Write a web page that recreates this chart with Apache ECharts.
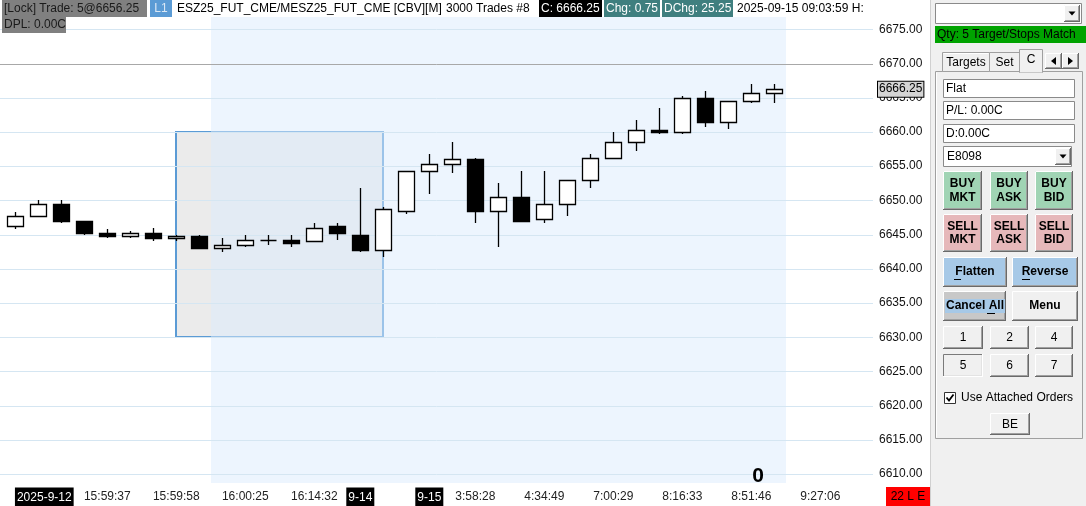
<!DOCTYPE html>
<html><head><meta charset="utf-8">
<script src="https://cdn.jsdelivr.net/npm/echarts@6.0.0/dist/echarts.min.js"></script>
<style>html,body{margin:0;padding:0;background:#fff;overflow:hidden}#c{width:1086px;height:506px}</style>
</head><body><div id="c"></div>
<script>
// ---------- data ----------
const opens  = [6646.25,6647.75,6649.50,6647.00,6645.25,6644.75,6645.25,6644.50,6644.75,6643.00,6643.50,6644.25,6644.25,6644.00,6646.25,6645.00,6642.75,6648.50,6654.25,6655.25,6656.00,6648.50,6650.50,6647.25,6649.50,6653.00,6656.25,6658.50,6660.25,6660.00,6665.00,6661.50,6664.50,6665.75];
const highs  = [6648.25,6650.00,6650.00,6647.00,6645.75,6645.50,6646.00,6645.00,6645.00,6644.50,6645.00,6645.00,6645.00,6646.75,6646.75,6651.75,6649.00,6654.25,6656.75,6658.50,6656.25,6652.50,6654.25,6654.25,6653.00,6656.75,6660.00,6661.75,6663.50,6665.25,6666.00,6664.50,6667.00,6667.00];
const lows   = [6645.75,6647.75,6646.75,6645.00,6644.50,6644.50,6644.00,6644.00,6643.00,6642.50,6643.25,6643.50,6643.25,6644.00,6644.25,6642.50,6641.75,6648.00,6651.00,6654.00,6646.75,6643.25,6647.00,6646.75,6647.75,6651.75,6656.00,6657.25,6659.75,6659.75,6660.75,6660.50,6664.25,6664.25];
const closes = [6647.75,6649.50,6647.00,6645.25,6644.75,6645.25,6644.50,6644.75,6643.00,6643.50,6644.25,6644.25,6643.75,6646.00,6645.25,6642.75,6648.75,6654.25,6655.25,6656.00,6648.50,6650.50,6647.00,6649.50,6653.00,6656.25,6658.50,6660.25,6660.00,6665.00,6661.50,6664.50,6665.75,6666.25];
const xTickIndex  = [0,4,7,10,13,15,18,20,23,26,29,32,35];
const xTickLabels = ['2025-9-12','15:59:37','15:59:58','16:00:25','16:14:32','9-14','9-15','3:58:28','4:34:49','7:00:29','8:16:33','8:51:46','9:27:06'];
const yTickValues = [6610,6615,6620,6625,6630,6635,6640,6645,6650,6655,6660,6665,6670,6675];
const sessionRange = [8.5, 33.5];
const selectionBox = [7, 6660, 16, 6630];
const referenceLevel = 6670;
const xRange = [-0.665, 37.29];
const yRange = [6608.69, 6676.80];

// ---------- build ----------
const candleData = opens.map((o,i)=>[i,o,highs[i],lows[i],closes[i]]);
const lastPrice = closes[closes.length-1];
const FF = '"Liberation Sans", Arial, sans-serif';
const F12 = '12px ' + FF, FB12 = 'bold 12px ' + FF;

function R(x,y,w,h,fill,stroke,lw){return {type:'rect',silent:true,shape:{x:x,y:y,width:w,height:h},style:{fill:fill||'none',stroke:stroke||null,lineWidth:lw||1}};}
function L(x1,y1,x2,y2,c,lw){return {type:'line',silent:true,shape:{x1:x1,y1:y1,x2:x2,y2:y2},style:{stroke:c,lineWidth:lw||1}};}
function T(x,y,text,o){o=o||{};return {type:'text',silent:true,x:x,y:y,style:{text:text,fill:o.fill||'#000',font:o.font||F12,align:o.align||'left',verticalAlign:'middle',backgroundColor:o.bg||null,padding:o.pad||null}};}
function P(points,fill){return {type:'polygon',silent:true,shape:{points:points},style:{fill:fill||'#000'}};}
function btn(x,y,w,h,fill,sunken){
  const hi = sunken ? '#7a7a7a' : '#ffffff', lo = sunken ? '#ffffff' : '#6a6a6a';
  return [R(x,y,w,h,fill),
    L(x+0.5,y+0.5,x+w-0.5,y+0.5,hi), L(x+0.5,y+0.5,x+0.5,y+h-0.5,hi),
    L(x,y+h-0.5,x+w,y+h-0.5,lo), L(x+w-0.5,y,x+w-0.5,y+h,lo),
    L(x+1,y+h-1.5,x+w-1,y+h-1.5, sunken?'#e3e3e3':'#a0a0a0'), L(x+w-1.5,y+1,x+w-1.5,y+h-1, sunken?'#e3e3e3':'#a0a0a0')];
}
function field(x,y,w,h){return [R(x+0.5,y+0.5,w-1,h-1,'#fff','#8a8a8a')];}
function dropBtn(x,y,w,h){return btn(x,y,w,h,'#f0f0f0',false).concat([P([[x+w/2-3.5,y+h/2-2],[x+w/2+3.5,y+h/2-2],[x+w/2,y+h/2+2]])]);}

let G = [];
// chart-area header
G.push(R(2,0,145,17,'#808080'));
G.push(T(4,9,'[Lock] Trade: 5@6656.25',{fill:'#1a1a1a'}));
G.push(R(150,0,22,17,'#5b9bd5'));
G.push(T(161,9,'L1',{fill:'#dbe8f5',align:'center'}));
G.push(T(177,9,'ESZ25_FUT_CME/MESZ25_FUT_CME [CBV][M]'));
G.push(T(446,9,'3000 Trades #8'));
G.push(R(539,0,63,17,'#000'));
G.push(T(541,9,'C: 6666.25',{fill:'#fff'}));
G.push(R(604,0,56,17,'#3f7f7f'));
G.push(T(606,9,'Chg: 0.75',{fill:'#fff'}));
G.push(R(662,0,71,17,'#3f7f7f'));
G.push(T(664,9,'DChg: 25.25',{fill:'#fff'}));
G.push(T(737,9,'2025-09-15 09:03:59 H:'));
G.push(R(2,17,64,16,'#808080'));
G.push(T(4,25,'DPL: 0.00C',{fill:'#1a1a1a'}));
G.push(T(758,476,'0',{font:'bold 21px '+FF,align:'center'}));
G.push(R(886,487,44,19,'#ff0000'));
G.push(T(908,496.5,'22 L E',{align:'center'}));

// right panel
G.push(R(930,0,156,506,'#f0f0f0'));
G.push(L(930.5,0,930.5,506,'#d0d0d0'));
G = G.concat(field(935,3,147,21));
G = G.concat(dropBtn(1064,5,16,17));
G.push(R(935,26,151,17,'#00a300'));
G.push(T(937,34.5,'Qty: 5 Target/Stops Match'));
// tab content frame
G.push(R(935.5,71.5,147,367,'#f0f0f0','#a0a0a0'));
G.push(L(936.5,72.5,936.5,437.5,'#ffffff'));
// tabs
G.push(R(942.5,52.5,47,19,'#f0f0f0','#a0a0a0'));
G.push(L(943.5,53.5,988.5,53.5,'#fff'));
G.push(T(966,63,'Targets',{align:'center'}));
G.push(R(989.5,52.5,30,19,'#f0f0f0','#a0a0a0'));
G.push(T(1004.5,63,'Set',{align:'center'}));
G.push(R(1019.5,49.5,23,23,'#f0f0f0','#a0a0a0'));
G.push(L(1020,71.5,1042,71.5,'#f0f0f0',2));
G.push(T(1031,60,'C',{align:'center'}));
G = G.concat(btn(1045,53,17,16,'#f0f0f0'));
G = G.concat(btn(1062,53,17,16,'#f0f0f0'));
G.push(P([[1051,61],[1056,57],[1056,65]]));
G.push(P([[1073,61],[1068,57],[1068,65]]));
// text fields
G = G.concat(field(943,79,132,19)); G.push(T(946,89,'Flat'));
G = G.concat(field(943,101,132,19)); G.push(T(946,111,'P/L: 0.00C'));
G = G.concat(field(943,124,132,19)); G.push(T(946,134,'D:0.00C'));
G = G.concat(field(943,146,129,21)); G.push(T(947,157,'E8098'));
G = G.concat(dropBtn(1055,148,16,17));
// buy / sell
[[943,39,'MKT'],[990,38,'ASK'],[1035,38,'BID']].forEach(function(b){
  G = G.concat(btn(b[0],171,b[1],39,'#a0d4b4'));
  G.push(T(b[0]+b[1]/2,184,'BUY',{font:FB12,align:'center'}));
  G.push(T(b[0]+b[1]/2,198,b[2],{font:FB12,align:'center'}));
  G = G.concat(btn(b[0],214,b[1],38,'#e6b8ba'));
  G.push(T(b[0]+b[1]/2,227,'SELL',{font:FB12,align:'center'}));
  G.push(T(b[0]+b[1]/2,240,b[2],{font:FB12,align:'center'}));
});
// flatten / reverse
G = G.concat(btn(943,257,64,30,'#a7c9e7'));
G.push(T(975,272,'Flatten',{font:FB12,align:'center'}));
G.push(L(954,279.5,961,279.5,'#000'));
G = G.concat(btn(1012,257,66,30,'#a7c9e7'));
G.push(T(1045,272,'Reverse',{font:FB12,align:'center'}));
G.push(L(1022,279.5,1030,279.5,'#000'));
G = G.concat(btn(943,291,63,30,'#c8c8c8'));
G.push(T(975,306,'Cancel All',{font:FB12,align:'center',bg:'#a7c9e7',pad:[1,1,1,1]}));
G.push(L(987,313.5,995,313.5,'#000'));
G = G.concat(btn(1012,291,66,30,'#f0f0f0'));
G.push(T(1045,306,'Menu',{font:FB12,align:'center'}));
// number buttons
[[943,40,'1','5'],[990,39,'2','6'],[1035,38,'4','7']].forEach(function(b,k){
  G = G.concat(btn(b[0],326,b[1],23,'#f0f0f0'));
  G.push(T(b[0]+b[1]/2,338,b[2],{align:'center'}));
  G = G.concat(btn(b[0],354,b[1],23,'#f0f0f0',k===0));
  G.push(T(b[0]+b[1]/2,366,b[3],{align:'center'}));
});
// checkbox
G.push(R(944.5,392.5,11,11,'#fff','#333'));
G.push({type:'polyline',silent:true,shape:{points:[[946.5,397.5],[949,400.5],[953.5,394.5]]},style:{stroke:'#000',lineWidth:1.8,fill:null}});
G.push(T(961,398,'Use Attached Orders'));
G = G.concat(btn(990,413,40,22,'#f0f0f0'));
G.push(T(1010,424.5,'BE',{align:'center'}));
G.forEach(function(e){ e.z = 100; });

// ---------- chart ----------
const chart = echarts.init(document.getElementById('c'), null, {renderer:'canvas'});
const option = {
  animation: false,
  backgroundColor: '#ffffff',
  grid: {left: 0, right: 213, top: 17, bottom: 23, containLabel: false, outerBoundsMode: 'none'},
  xAxis: {
    type: 'value', min: xRange[0], max: xRange[1],
    axisLine: {show:false}, axisTick: {show:false}, splitLine: {show:false},
    axisLabel: {
      customValues: xTickIndex, margin: 3, color: '#222', fontSize: 12, fontFamily: FF, lineHeight: 22,
      formatter: function(v){
        const k = xTickIndex.indexOf(Math.round(v));
        if (k < 0) return '';
        const s = xTickLabels[k];
        if (s.indexOf('-') >= 0) return (k === 0 ? '{sp|}' : '') + '{d|' + s + '}';
        return s;
      },
      rich: {
        sp: {width: 58},
        d: {backgroundColor: '#000', color: '#fff', padding: [4,2,3,2], fontSize: 12, fontFamily: FF}
      }
    }
  },
  yAxis: {
    type: 'value', position: 'right', min: yRange[0], max: yRange[1],
    axisLine: {show:false}, axisTick: {show:false}, splitLine: {show:false},
    axisLabel: {customValues: yTickValues, margin: 6, color: '#111', fontSize: 12, fontFamily: FF,
      formatter: function(v){ return v.toFixed(2); }}
  },
  series: [
    { // selection rectangle
      type: 'custom', z: 1, silent: true, data: [selectionBox], encode: {x:[0,2], y:[1,3]},
      renderItem: function(params, api){
        const a = api.coord([api.value(0), api.value(1)]), b = api.coord([api.value(2), api.value(3)]);
        return {type:'rect', shape:{x:Math.round(a[0]), y:Math.round(a[1]), width:Math.round(b[0]-a[0]), height:Math.round(b[1]-a[1])},
          style:{fill:'#ebebeb', stroke:'#5b9bd5', lineWidth:2}};
      }
    },
    { // session shading
      type: 'custom', z: 2, silent: true, data: [sessionRange], encode: {x:[0,1]},
      renderItem: function(params, api){
        const cs = params.coordSys;
        const a = api.coord([api.value(0), yRange[0]]), b = api.coord([api.value(1), yRange[0]]);
        return {type:'rect', shape:{x:Math.round(a[0]), y:cs.y, width:Math.round(b[0]-a[0]), height:cs.height},
          style:{fill:'rgba(219,235,253,0.5)'}};
      }
    },
    { // horizontal grid lines
      type: 'custom', z: 3, silent: true, data: yTickValues.map(function(v){return [v];}), encode: {y:0},
      renderItem: function(params, api){
        const cs = params.coordSys;
        const y = Math.round(api.coord([0, api.value(0)])[1]) + 0.5;
        return {type:'line', shape:{x1:cs.x, y1:y, x2:cs.x+cs.width, y2:y}, style:{stroke:'#d5e6f2', lineWidth:1}};
      }
    },
    { // reference level line
      type: 'custom', z: 3.5, silent: true, data: [[referenceLevel]], encode: {y:0},
      renderItem: function(params, api){
        const cs = params.coordSys;
        const y = Math.round(api.coord([0, api.value(0)])[1]) + 0.5;
        return {type:'line', shape:{x1:cs.x, y1:y, x2:cs.x+cs.width, y2:y}, style:{stroke:'#a8a8a8', lineWidth:1}};
      }
    },
    { // candles
      type: 'custom', z: 4, silent: true, data: candleData, encode: {x:0, y:[1,2,3,4]},
      renderItem: function(params, api){
        const i = api.value(0), o = api.value(1), h = api.value(2), l = api.value(3), c = api.value(4);
        const pO = api.coord([i,o]), pC = api.coord([i,c]), pH = api.coord([i,h]), pL = api.coord([i,l]);
        const w = Math.round(api.size([1,0])[0] * 0.7);
        const x = Math.round(pO[0]) + 0.5;
        const top = Math.round(Math.min(pO[1], pC[1])) + 0.5, bot = Math.round(Math.max(pO[1], pC[1])) + 0.5;
        const up = c >= o;
        return {type:'group', children:[
          {type:'line', shape:{x1:x, y1:Math.round(pH[1]), x2:x, y2:Math.round(pL[1])}, style:{stroke:'#000', lineWidth:1.3}},
          {type:'rect', shape:{x:x - w/2, y:top, width:w, height:bot-top}, style:{fill: up ? '#fff' : '#000', stroke:'#000', lineWidth:1.3}}
        ]};
      }
    },
    { // last price tag on the price scale
      type: 'custom', z: 10, silent: true, data: [[lastPrice]], encode: {y:0},
      renderItem: function(params, api){
        const cs = params.coordSys;
        const y = api.coord([0, api.value(0)])[1];
        return {type:'text', x: cs.x + cs.width + 5, y: y, style:{text: api.value(0).toFixed(2), font: F12, fill:'#000',
          verticalAlign:'middle', align:'left', backgroundColor:'#d4d4d4', borderColor:'#000', borderWidth:1, padding:[2,1,1,1]}};
      }
    }
  ],
  graphic: {elements: G}
};
chart.setOption(option);
</script>
</body></html>
